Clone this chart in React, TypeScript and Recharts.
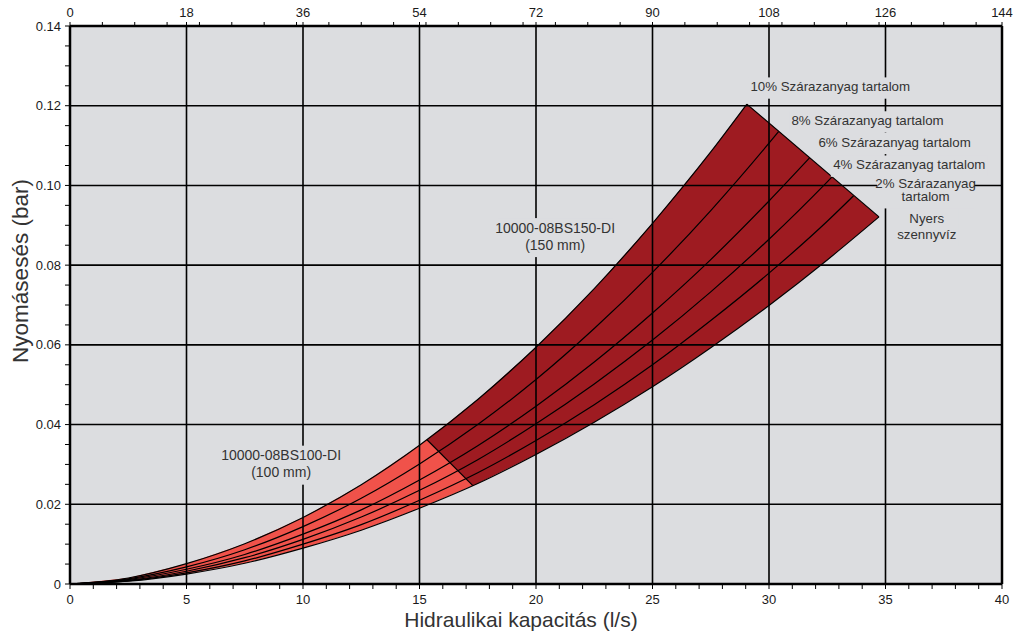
import React from "react";
import {
  ComposedChart,
  Area,
  Line,
  XAxis,
  YAxis,
  CartesianGrid,
  ReferenceLine,
  ReferenceDot,
} from "recharts";

const FLOW = [0, 2.5, 5, 7.5, 10, 12.5, 15, 17.5, 20, 22.5, 25, 27.5, 30, 32.5];

// pressure drop (bar) along FLOW, one list per dry-solids content
const DROP_10 = [0, 0.0015, 0.0051, 0.0101, 0.0167, 0.0249, 0.0348, 0.0463, 0.0594, 0.0741, 0.0905, 0.1084];
const DROP_8 = [0, 0.0013, 0.0043, 0.0086, 0.0144, 0.0215, 0.0301, 0.04, 0.0513, 0.0641, 0.0782, 0.0937, 0.1106];
const DROP_6 = [0, 0.0011, 0.0037, 0.0074, 0.0125, 0.0186, 0.0261, 0.0347, 0.0446, 0.0557, 0.068, 0.0814, 0.0961];
const DROP_4 = [0, 0.0009, 0.0032, 0.0066, 0.0112, 0.0168, 0.0235, 0.0312, 0.0402, 0.0502, 0.0612, 0.0733, 0.0865, 0.1009];
const DROP_2 = [0, 0.0008, 0.0028, 0.0058, 0.01, 0.0149, 0.021, 0.0279, 0.036, 0.045, 0.055, 0.0661, 0.078, 0.091];
const DROP_RAW = [0, 0.0007, 0.0025, 0.0052, 0.009, 0.0135, 0.019, 0.0252, 0.0325, 0.0406, 0.0495, 0.0593, 0.0699, 0.0813];

// end of each curve on the right limit line: 10%, 8%, 6%, 4%, 2%, raw
const END_FLOW = [29.05, 30.41, 31.74, 32.7, 33.63, 34.72];
const END_DROP = [0.1204, 0.1135, 0.1069, 0.1021, 0.0974, 0.0921];

// 100 mm -> 150 mm change line
const SPLIT_FLOW = [15.32, 17.29];
const SPLIT_DROP = [0.0362, 0.0247];

// 150 mm band (low / high edge)
const WIDE_FLOW = [15.32, 17.29, 17.5, 20, 22.5, 25, 27.5, 29.05, 30, 32.5, 34.72];
const WIDE_LOW = [0.0362, 0.0247, 0.0252, 0.0325, 0.0406, 0.0495, 0.0593, 0.0658, 0.0699, 0.0813, 0.0921];
const WIDE_HIGH = [0.0362, 0.0453, 0.0463, 0.0594, 0.0741, 0.0905, 0.1084, 0.1204, 0.1157, 0.1032, 0.0921];

const FLOW_TICKS = [0, 5, 10, 15, 20, 25, 30, 35, 40];
const M3H_TICKS = [0, 18, 36, 54, 72, 90, 108, 126, 144];
const DROP_TICKS = [0, 0.02, 0.04, 0.06, 0.08, 0.1, 0.12, 0.14];

const NOTES = [
  { x: 32.63, y: 0.1248, lines: ["10% Szárazanyag tartalom"] },
  { x: 34.23, y: 0.1163, lines: ["8% Szárazanyag tartalom"] },
  { x: 35.39, y: 0.1109, lines: ["6% Szárazanyag tartalom"] },
  { x: 36.02, y: 0.1052, lines: ["4% Szárazanyag tartalom"] },
  { x: 36.72, y: 0.0989, lines: ["2% Szárazanyag", "tartalom"] },
  { x: 36.77, y: 0.0897, lines: ["Nyers", "szennyvíz"] },
  { x: 20.82, y: 0.0873, lines: ["10000-08BS150-DI", "(150 mm)"] },
  { x: 9.06, y: 0.0302, lines: ["10000-08BS100-DI", "(100 mm)"] },
];

const FONT = '"Liberation Sans", Arial, Helvetica, sans-serif';
const PLOT_BG = "#dcdde0";
const LIGHT_RED = "#f0524a";
const DARK_RED = "#9e1b21";
const TEXT = "#333";

// per-note text size and line gap
const NOTE_STYLE = [
  { size: 13.3, gap: 14 },
  { size: 13.3, gap: 14 },
  { size: 13.3, gap: 14 },
  { size: 13.3, gap: 14 },
  { size: 13.3, gap: 13 },
  { size: 13.3, gap: 16 },
  { size: 14, gap: 17 },
  { size: 14, gap: 17 },
];

const flowMinor: number[] = [];
for (let i = 0; i <= 40; i++) flowMinor.push(i);

const m3hAll: number[] = [...M3H_TICKS];
for (let v = 5; v < 144; v += 5) if (!m3hAll.includes(v)) m3hAll.push(v);
m3hAll.sort((a, b) => a - b);

const dropAll: number[] = [];
for (let i = 0; i <= 28; i++) dropAll.push(Math.round(i * 5) / 1000);

const isMajorDrop = (v: number) => DROP_TICKS.some((t) => Math.abs(t - v) < 1e-9);

const curvePoints = (drop: number[], k: number) => [
  ...drop.map((y, i) => ({ x: FLOW[i], y })),
  { x: END_FLOW[k], y: END_DROP[k] },
];

const curves = [DROP_10, DROP_8, DROP_6, DROP_4, DROP_2, DROP_RAW].map((d, k) => curvePoints(d, k));

const narrowBand = FLOW.slice(0, 8).map((x, i) => ({ x, band: [DROP_RAW[i], DROP_10[i]] }));
const wideBand = WIDE_FLOW.map((x, i) => ({ x, band: [WIDE_LOW[i], WIDE_HIGH[i]] }));
const splitLine = SPLIT_FLOW.map((x, i) => ({ x, y: SPLIT_DROP[i] }));
const endLine = [
  { x: END_FLOW[0], y: END_DROP[0] },
  { x: END_FLOW[5], y: END_DROP[5] },
];

// the m3/h axis has no series of its own, so it reads its rows from the chart data
const m3hRows = M3H_TICKS.map((v) => ({ m3h: v }));

function FlowTick({ x, y, payload }: any) {
  const major = FLOW_TICKS.includes(payload.value);
  return (
    <g>
      <line x1={x} y1={y} x2={x} y2={y + 5} stroke="#000" strokeWidth={1} />
      {major && (
        <text x={x} y={y + 20} textAnchor="middle" fontSize={13} fill="#1a1a1a" fontFamily={FONT}>
          {payload.value}
        </text>
      )}
    </g>
  );
}

function M3hTick({ x, y, payload }: any) {
  const major = M3H_TICKS.includes(payload.value);
  return (
    <g>
      <line x1={x} y1={y} x2={x} y2={y - 4} stroke="#000" strokeWidth={1} />
      {major && (
        <text x={x} y={y - 9} textAnchor="middle" fontSize={13} fill="#1a1a1a" fontFamily={FONT}>
          {payload.value}
        </text>
      )}
    </g>
  );
}

function DropTick({ x, y, payload }: any) {
  const v = payload.value as number;
  const major = isMajorDrop(v);
  return (
    <g>
      <line x1={x - 5} y1={y} x2={x} y2={y} stroke="#000" strokeWidth={1} />
      {major && (
        <text x={x - 9} y={y + 4.6} textAnchor="end" fontSize={13} fill="#1a1a1a" fontFamily={FONT}>
          {v === 0 ? "0" : v.toFixed(2)}
        </text>
      )}
    </g>
  );
}

function NoteShape({ cx, cy, idx }: any) {
  const note = NOTES[idx];
  const { size, gap } = NOTE_STYLE[idx];
  const n = note.lines.length;
  const longest = Math.max(...note.lines.map((l) => l.length));
  const w = longest * size * 0.5;
  const first = cy - ((n - 1) * gap) / 2 + size * 0.36;
  const last = first + (n - 1) * gap;
  const top = first - size * 0.75 - 4;
  const bottom = last + size * 0.25 + 4;
  return (
    <g>
      <rect x={cx - w / 2 - 2} y={top} width={w + 4} height={bottom - top} fill={PLOT_BG} />
      {note.lines.map((l, i) => (
        <text
          key={i}
          x={cx}
          y={first + i * gap}
          textAnchor="middle"
          fontSize={size}
          fill={TEXT}
          fontFamily={FONT}
        >
          {l}
        </text>
      ))}
    </g>
  );
}

export default function App() {
  return (
    <div
      style={{
        position: "absolute",
        left: 0,
        top: 0,
        width: 1013,
        height: 636,
        background: "#fff",
        fontFamily: FONT,
      }}
    >
      <ComposedChart
        width={1013}
        height={636}
        data={m3hRows}
        margin={{ top: 0, right: 11, bottom: 0, left: 0 }}
      >
        <CartesianGrid horizontal={false} vertical={false} fill={PLOT_BG} fillOpacity={1} />
        <XAxis
          type="number"
          dataKey="x"
          domain={[0, 40]}
          allowDataOverflow
          ticks={flowMinor}
          interval={0}
          tick={FlowTick}
          tickLine={false}
          tickSize={0}
          tickMargin={0}
          height={52}
          axisLine={{ stroke: "#000", strokeWidth: 2.5 }}
          label={{
            content: (p: any) => {
              const vb = p.viewBox || { x: 70, y: 584, width: 931, height: 52 };
              return (
                <text
                  x={vb.x + vb.width / 2 - 15}
                  y={vb.y + 43}
                  textAnchor="middle"
                  fontSize={21}
                  fill={TEXT}
                  fontFamily={FONT}
                >
                  Hidraulikai kapacitás (l/s)
                </text>
              );
            },
          }}
        />
        <XAxis
          xAxisId="m3h"
          orientation="top"
          type="number"
          dataKey="m3h"
          domain={[0, 144]}
          allowDataOverflow
          ticks={m3hAll}
          interval={0}
          tick={M3hTick}
          tickLine={false}
          tickSize={0}
          tickMargin={0}
          height={26}
          axisLine={{ stroke: "#000", strokeWidth: 2.5 }}
        />
        <YAxis
          type="number"
          domain={[0, 0.14]}
          allowDataOverflow
          ticks={dropAll}
          interval={0}
          tick={DropTick}
          tickLine={false}
          tickSize={0}
          tickMargin={0}
          width={70}
          axisLine={{ stroke: "#000", strokeWidth: 2.5 }}
          label={{
            content: (p: any) => {
              const vb = p.viewBox || { x: 0, y: 26, width: 70, height: 558 };
              const tx = vb.x + 28;
              const ty = vb.y + vb.height / 2 - 34;
              return (
                <text
                  x={tx}
                  y={ty}
                  transform={`rotate(-90, ${tx}, ${ty})`}
                  textAnchor="middle"
                  fontSize={22.5}
                  fill={TEXT}
                  fontFamily={FONT}
                >
                  Nyomásesés (bar)
                </text>
              );
            },
          }}
        />

        <Area
          data={narrowBand}
          dataKey="band"
          type="linear"
          stroke="none"
          fill={LIGHT_RED}
          fillOpacity={1}
          dot={false}
          activeDot={false}
          isAnimationActive={false}
        />
        <Area
          data={wideBand}
          dataKey="band"
          type="linear"
          stroke="none"
          fill={DARK_RED}
          fillOpacity={1}
          dot={false}
          activeDot={false}
          isAnimationActive={false}
        />

        {DROP_TICKS.slice(1, -1).map((v) => (
          <ReferenceLine key={`h${v}`} y={v} stroke="#000" strokeWidth={1.6} />
        ))}
        {FLOW_TICKS.slice(1, -1).map((v) => (
          <ReferenceLine key={`v${v}`} x={v} stroke="#000" strokeWidth={1.6} />
        ))}
        <ReferenceLine x={40} stroke="#000" strokeWidth={2.5} ifOverflow="visible" />

        {curves.map((pts, k) => (
          <Line
            key={`c${k}`}
            data={pts}
            dataKey="y"
            type="monotone"
            stroke="#000"
            strokeWidth={1.2}
            dot={false}
            activeDot={false}
            isAnimationActive={false}
          />
        ))}
        <Line
          data={splitLine}
          dataKey="y"
          type="linear"
          stroke="#000"
          strokeWidth={1.2}
          dot={false}
          activeDot={false}
          isAnimationActive={false}
        />
        <Line
          data={endLine}
          dataKey="y"
          type="linear"
          stroke="#000"
          strokeWidth={1.2}
          dot={false}
          activeDot={false}
          isAnimationActive={false}
        />

        {NOTES.map((note, i) => (
          <ReferenceDot
            key={`n${i}`}
            x={note.x}
            y={note.y}
            r={1}
            ifOverflow="visible"
            shape={(p: any) => <NoteShape cx={p.cx} cy={p.cy} idx={i} />}
          />
        ))}
      </ComposedChart>
    </div>
  );
}
